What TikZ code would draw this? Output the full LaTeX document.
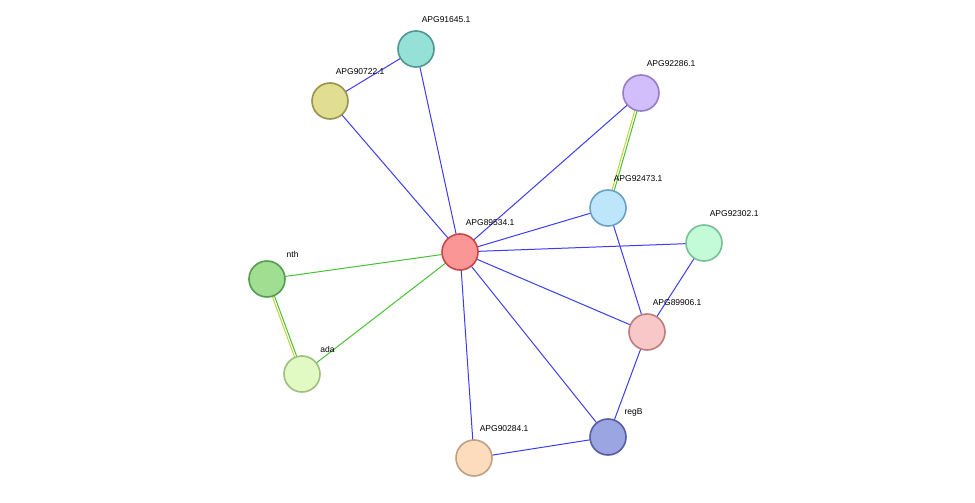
\documentclass[tikz,border=0pt]{standalone}
\usepackage{fontspec}
\setmainfont{Liberation Sans}
\usetikzlibrary{backgrounds}
\begin{document}
\begin{tikzpicture}[x=1pt,y=-1pt,
  prot/.style={circle,draw,line width=1.6pt,minimum size=36pt,inner sep=0pt},
  lab/.style={label={[font=\fontsize{8.5}{10}\selectfont,anchor=south west,inner sep=0pt,xshift=-1pt,yshift=-2pt]north east:#1}},
  eb/.style={draw={rgb,255:red,60;green,60;blue,240},line width=1pt},
  eg/.style={draw={rgb,255:red,70;green,195;blue,50},line width=1pt},
  ey/.style={draw={rgb,255:red,200;green,210;blue,60},line width=1pt}]
\useasboundingbox (0,0) rectangle (975,503);
\begin{scope}[every node/.style={prot}]
\node[fill={rgb,255:red,250;green,150;blue,150},draw={rgb,255:red,200;green,70;blue,70},lab=APG89534.1] (c) at (460,252) {};
\node[fill={rgb,255:red,150;green,225;blue,215},draw={rgb,255:red,80;green,150;blue,145},lab=APG91645.1] (a1) at (416,49) {};
\node[fill={rgb,255:red,225;green,222;blue,145},draw={rgb,255:red,150;green,148;blue,80},lab=APG90722.1] (a2) at (330,101) {};
\node[fill={rgb,255:red,210;green,190;blue,250},draw={rgb,255:red,150;green,125;blue,200},lab=APG92286.1] (a3) at (641,93) {};
\node[fill={rgb,255:red,190;green,230;blue,250},draw={rgb,255:red,110;green,160;blue,195},lab=APG92473.1] (a4) at (608,208) {};
\node[fill={rgb,255:red,195;green,250;blue,215},draw={rgb,255:red,120;green,190;blue,150},lab=APG92302.1] (a5) at (704,243) {};
\node[fill={rgb,255:red,160;green,222;blue,145},draw={rgb,255:red,85;green,155;blue,80},lab=nth] (n) at (267,279) {};
\node[fill={rgb,255:red,225;green,250;blue,195},draw={rgb,255:red,160;green,190;blue,125},lab=ada] (d) at (302,374) {};
\node[fill={rgb,255:red,248;green,200;blue,200},draw={rgb,255:red,190;green,125;blue,125},lab=APG89906.1] (a6) at (647,332) {};
\node[fill={rgb,255:red,155;green,165;blue,225},draw={rgb,255:red,85;green,95;blue,160},lab=regB] (r) at (608,437) {};
\node[fill={rgb,255:red,253;green,220;blue,190},draw={rgb,255:red,190;green,160;blue,130},lab=APG90284.1] (a7) at (474,458) {};
\end{scope}
\begin{scope}[on background layer]
\foreach \u/\v in {a2/a1,a2/c,a1/c,a3/c,a4/c,a5/c,a6/c,r/c,a7/c,a4/a6,a5/a6,a6/r,r/a7}
  \path[eb] (\u.center) -- (\v.center);
\path[eg] (n.center) -- (c.center);
\path[eg] (d.center) -- (c.center);
\path[eg] ([xshift=1.2pt]n.center) -- ([xshift=1.2pt]d.center);
\path[ey] ([xshift=-1.2pt]n.center) -- ([xshift=-1.2pt]d.center);
\path[ey] ([xshift=-1.2pt]a3.center) -- ([xshift=-1.2pt]a4.center);
\path[eg] ([xshift=1.2pt]a3.center) -- ([xshift=1.2pt]a4.center);
\end{scope}
\end{tikzpicture}
\end{document}
